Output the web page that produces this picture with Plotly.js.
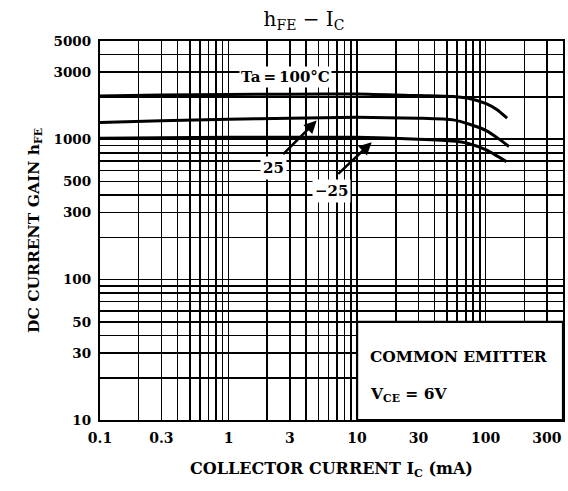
<!DOCTYPE html>
<html>
<head>
<meta charset="utf-8">
<script src="https://cdn.plot.ly/plotly-3.0.1.min.js"></script>
<style>html,body{margin:0;padding:0;background:#fff;}#chart{width:568px;height:491px;}</style>
</head>
<body>
<div id="chart"></div>
<script>
// ---- data ----
const ic100  = [0.1, 0.3, 1, 3, 10, 30, 56, 76, 101, 122, 147];
const hfe100 = [2030, 2060, 2080, 2090, 2100, 2042, 2010, 1940, 1790, 1625, 1410];

const ic25   = [0.1, 0.3, 1, 3, 10, 30, 56, 76, 101, 125, 152];
const hfe25  = [1312, 1350, 1385, 1410, 1430, 1410, 1372, 1271, 1150, 1013, 886];

const icM25  = [0.1, 0.3, 1, 3, 10, 30, 56, 72, 101, 145];
const hfeM25 = [1015, 1022, 1030, 1030, 1030, 1000, 970, 935, 838, 692];

const xTickLabels = ['0.1', '0.3', '1', '3', '10', '30', '100', '300'];
const yTickLabels = ['10', '30', '50', '100', '300', '500', '1000', '3000', '5000'];

const xRange = [0.1, 400];
const yRange = [10, 5000];

// ---- grid values (1..9 per decade) ----
function gridVals(lo, hi) {
  const out = [];
  for (let e = Math.floor(Math.log10(lo)); e <= Math.ceil(Math.log10(hi)); e++) {
    for (let m = 1; m <= 9; m++) {
      const v = m * Math.pow(10, e);
      if (v >= lo * 0.999 && v <= hi * 1.001) out.push(v);
    }
  }
  return out;
}
function labelsFor(vals, labels) {
  return vals.map(v => {
    const hit = labels.find(l => Math.abs(Math.log10(parseFloat(l)) - Math.log10(v)) < 1e-6);
    return hit ? hit : '';
  });
}
const xGrid = gridVals(xRange[0], xRange[1]);
const yGrid = gridVals(yRange[0], yRange[1]);

const FONT = 'DejaVu Serif, Liberation Serif, serif';
const lineStyle = {color: '#000', width: 3, shape: 'spline', smoothing: 0.6};

const traces = [
  {x: ic100, y: hfe100, mode: 'lines', line: lineStyle, hoverinfo: 'skip'},
  {x: ic25, y: hfe25, mode: 'lines', line: lineStyle, hoverinfo: 'skip'},
  {x: icM25, y: hfeM25, mode: 'lines', line: lineStyle, hoverinfo: 'skip'}
];

const L = Math.log10;
const bold = (size) => ({family: FONT, size: size, weight: 'bold', color: '#000'});
const layout = {
  width: 568, height: 491,
  margin: {l: 100, r: 5, t: 41, b: 71},
  paper_bgcolor: '#fff', plot_bgcolor: '#fff',
  showlegend: false,
  font: {family: FONT, color: '#000', size: 13},
  title: {
    text: 'h<sub>FE</sub> − I<sub>C</sub>',
    font: {family: FONT, size: 20, color: '#000'},
    x: 304 / 568, xanchor: 'center', xref: 'container',
    y: 1 - 19 / 491, yanchor: 'middle', yref: 'container'
  },
  xaxis: {
    type: 'log', range: [L(xRange[0]), L(xRange[1])],
    tickmode: 'array', tickvals: xGrid, ticktext: labelsFor(xGrid, xTickLabels),
    ticks: '', showgrid: true, gridcolor: '#000', gridwidth: 1.6,
    showline: true, mirror: true, linecolor: '#000', linewidth: 2.2,
    zeroline: false, ticklabelstandoff: 4,
    tickfont: bold(14),
    title: {text: 'COLLECTOR CURRENT I<sub>C</sub> (mA)', standoff: 18, font: bold(16)}
  },
  yaxis: {
    type: 'log', range: [L(yRange[0]), L(yRange[1])],
    tickmode: 'array', tickvals: yGrid, ticktext: labelsFor(yGrid, yTickLabels),
    ticks: '', showgrid: true, gridcolor: '#000', gridwidth: 1.6,
    showline: true, mirror: true, linecolor: '#000', linewidth: 2.2,
    zeroline: false, ticklabelstandoff: 4,
    tickfont: bold(13.5),
    title: {text: 'DC CURRENT GAIN h<sub>FE</sub>', standoff: 10, font: bold(15.5)}
  },
  shapes: [
    {type: 'rect', xref: 'x', yref: 'y', x0: 10, x1: 400, y0: 10, y1: 50,
     fillcolor: '#fff', line: {color: '#000', width: 2.2}, layer: 'above'}
  ],
  annotations: [
    {x: L(2.75), y: L(2786), xref: 'x', yref: 'y', text: 'Ta\u2009=\u2009100°C', showarrow: false,
     bgcolor: '#fff', borderpad: 1, font: bold(15)},
    {x: L(2.22), y: L(623), xref: 'x', yref: 'y', text: '25', showarrow: false,
     bgcolor: '#fff', borderpad: 2, font: bold(15)},
    {x: L(6.35), y: L(428), xref: 'x', yref: 'y', text: '−25', showarrow: false,
     bgcolor: '#fff', borderpad: 2, font: bold(15)},
    {x: L(4.85), y: L(1355), xref: 'x', yref: 'y', text: '', showarrow: true,
     ax: -35, ay: 35, arrowhead: 2, arrowsize: 1, arrowwidth: 2.5, arrowcolor: '#000'},
    {x: L(13.0), y: L(950), xref: 'x', yref: 'y', text: '', showarrow: true,
     ax: -35, ay: 33, arrowhead: 2, arrowsize: 1, arrowwidth: 2.5, arrowcolor: '#000'},
    {x: L(12.2), y: L(28.3), xref: 'x', yref: 'y', text: 'COMMON EMITTER', showarrow: false,
     xanchor: 'left', font: bold(15.5)},
    {x: L(12.2), y: L(15.3), xref: 'x', yref: 'y', text: 'V<sub>CE</sub> = 6V', showarrow: false,
     xanchor: 'left', font: bold(15.5)}
  ]
};

Plotly.newPlot('chart', traces, layout, {staticPlot: true, displayModeBar: false});
</script>
</body>
</html>
